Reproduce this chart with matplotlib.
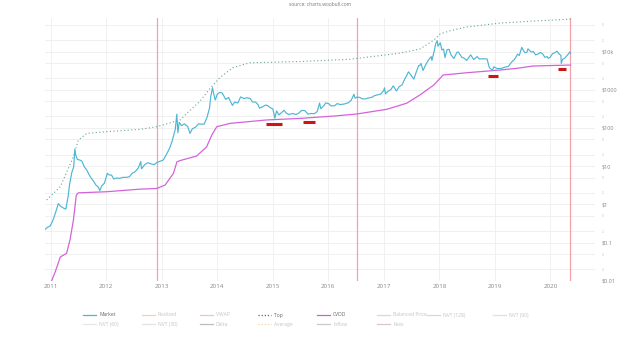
# woobull style chart: bitcoin market price vs CVDD and top model, log scale
import pandas as pd
import matplotlib
matplotlib.use('Agg')
import matplotlib.pyplot as plt
import matplotlib.dates as mdates
from matplotlib.lines import Line2D

# market price (USD)
market_dates = ['2010-11-24', '2010-12-10', '2010-12-28', '2011-01-15', '2011-02-01', '2011-02-20',
                '2011-03-05', '2011-03-25', '2011-04-10', '2011-04-25', '2011-05-05', '2011-05-20',
                '2011-06-01', '2011-06-08', '2011-06-15', '2011-06-25', '2011-07-10', '2011-07-25',
                '2011-08-10', '2011-08-25', '2011-09-10', '2011-09-25', '2011-10-10', '2011-10-25',
                '2011-11-10', '2011-11-20', '2011-12-01', '2011-12-20', '2012-01-08', '2012-01-20',
                '2012-02-05', '2012-02-20', '2012-03-10', '2012-03-30', '2012-04-20', '2012-05-15',
                '2012-06-01', '2012-06-20', '2012-07-10', '2012-07-30', '2012-08-15', '2012-08-20',
                '2012-09-10', '2012-09-30', '2012-10-20', '2012-11-10', '2012-11-28', '2012-12-20',
                '2013-01-10', '2013-01-30', '2013-02-20', '2013-03-10', '2013-03-30', '2013-04-09',
                '2013-04-16', '2013-04-25', '2013-05-10', '2013-05-30', '2013-06-20', '2013-07-05',
                '2013-07-20', '2013-08-10', '2013-08-30', '2013-09-20', '2013-10-05', '2013-10-25',
                '2013-11-10', '2013-11-18', '2013-11-30', '2013-12-07', '2013-12-18', '2013-12-31',
                '2014-01-15', '2014-02-01', '2014-02-25', '2014-03-15', '2014-04-10', '2014-04-25',
                '2014-05-15', '2014-06-03', '2014-06-25', '2014-07-15', '2014-08-05', '2014-08-20',
                '2014-09-10', '2014-09-25', '2014-10-05', '2014-10-25', '2014-11-15', '2014-11-30',
                '2014-12-15', '2015-01-01', '2015-01-14', '2015-01-25', '2015-02-10', '2015-02-28',
                '2015-03-15', '2015-03-30', '2015-04-15', '2015-05-10', '2015-06-01', '2015-06-20',
                '2015-07-10', '2015-07-30', '2015-08-20', '2015-09-10', '2015-09-30', '2015-10-20',
                '2015-11-04', '2015-11-12', '2015-11-30', '2015-12-15', '2016-01-05', '2016-01-16',
                '2016-02-10', '2016-02-28', '2016-03-20', '2016-04-15', '2016-05-10', '2016-05-30',
                '2016-06-17', '2016-06-25', '2016-07-10', '2016-07-30', '2016-08-10', '2016-08-30',
                '2016-09-20', '2016-10-15', '2016-10-30', '2016-11-20', '2016-12-10', '2016-12-30',
                '2017-01-04', '2017-01-11', '2017-01-25', '2017-02-15', '2017-03-03', '2017-03-24',
                '2017-04-10', '2017-04-30', '2017-05-20', '2017-05-26', '2017-06-11', '2017-06-25',
                '2017-07-16', '2017-07-30', '2017-08-17', '2017-08-25', '2017-09-01', '2017-09-15',
                '2017-09-30', '2017-10-20', '2017-11-08', '2017-11-12', '2017-11-29', '2017-12-07',
                '2017-12-17', '2017-12-22', '2018-01-06', '2018-01-17', '2018-01-28', '2018-02-06',
                '2018-02-20', '2018-03-05', '2018-03-18', '2018-04-06', '2018-04-25', '2018-05-05',
                '2018-05-28', '2018-06-10', '2018-06-29', '2018-07-25', '2018-08-14', '2018-09-05',
                '2018-09-20', '2018-10-15', '2018-11-10', '2018-11-25', '2018-12-15', '2018-12-25',
                '2019-01-15', '2019-02-10', '2019-03-01', '2019-03-30', '2019-04-20', '2019-05-10',
                '2019-05-30', '2019-06-10', '2019-06-26', '2019-07-05', '2019-07-16', '2019-07-30',
                '2019-08-06', '2019-08-28', '2019-09-10', '2019-09-25', '2019-10-10', '2019-10-26',
                '2019-11-10', '2019-11-25', '2019-12-10', '2019-12-17', '2019-12-31', '2020-01-14',
                '2020-01-31', '2020-02-13', '2020-02-28', '2020-03-10', '2020-03-12', '2020-03-20',
                '2020-04-05', '2020-04-29', '2020-05-08', '2020-05-12']
market_price = [0.22, 0.25, 0.27, 0.38, 0.6, 1.05,
                0.9, 0.8, 0.75, 1.6, 3.4, 7,
                9.6, 28, 19, 15, 14.5, 13.5,
                9.5, 8, 6, 4.8, 4, 3.2,
                2.8, 2.3, 3.0, 3.6, 6.5, 5.9,
                5.8, 4.6, 4.9, 4.8, 5.1, 5.1,
                5.3, 6.5, 7.2, 9.0, 13.2, 8.5,
                11.0, 12.3, 11.5, 10.9, 12.4, 13.4,
                14.5, 20, 29, 46, 92, 230,
                75, 140, 115, 128, 108, 72,
                95, 105, 128, 126, 125, 190,
                330, 650, 1130, 800, 540, 760,
                850, 830, 560, 630, 390, 480,
                450, 650, 590, 620, 590, 480,
                475, 410, 330, 360, 400, 380,
                340, 315, 180, 280, 220, 255,
                290, 245, 225, 240, 225, 245,
                290, 285, 230, 240, 236, 270,
                450, 320, 375, 455, 430, 380,
                380, 435, 410, 425, 455, 530,
                760, 600, 650, 620, 580, 575,
                610, 640, 700, 740, 770, 960,
                1130, 780, 900, 1010, 1270, 930,
                1200, 1350, 2000, 2200, 2950, 2500,
                1900, 2750, 4300, 4350, 4900, 3200,
                4350, 6000, 7400, 5900, 11000, 16000,
                19300, 13800, 17000, 11000, 11700, 7000,
                11200, 11500, 8200, 6600, 9500, 9800,
                7100, 6800, 5900, 8200, 6200, 7400,
                6400, 6500, 6400, 3800, 3250, 4000,
                3600, 3600, 3850, 4100, 5300, 6300,
                8600, 7900, 12900, 11000, 9400, 9600,
                11800, 9700, 10100, 8200, 8600, 9500,
                8800, 7100, 7400, 6650, 7200, 8800,
                9400, 10300, 8600, 7900, 4900, 6200,
                6800, 8800, 9900, 8900]

# top model (dotted)
top_dates = ['2010-12-05', '2011-03-05', '2011-05-30', '2011-07-01', '2011-08-25', '2012-01-05',
             '2012-08-10', '2012-11-28', '2013-05-01', '2013-07-01', '2013-09-08', '2013-11-15',
             '2014-01-18', '2014-04-12', '2014-08-03', '2015-06-28', '2016-05-22', '2017-04-16',
             '2017-08-25', '2017-11-25', '2018-01-05', '2018-03-10', '2018-06-25', '2019-02-06',
             '2019-09-10', '2020-05-12']
top_price = [1.3, 2.9, 17.7, 48, 72, 80,
             92, 108, 162, 280, 500, 1100,
             2100, 3800, 5100, 5500, 6300, 9100,
             11700, 20000, 29000, 35000, 44000, 56000,
             63000, 71000]

# CVDD
cvdd_dates = ['2010-12-28', '2011-01-30', '2011-03-05', '2011-04-15', '2011-05-08', '2011-05-30',
              '2011-06-18', '2011-07-01', '2012-01-05', '2012-08-10', '2012-11-28', '2013-01-22',
              '2013-03-18', '2013-04-10', '2013-05-01', '2013-08-18', '2013-10-22', '2013-11-25',
              '2013-12-28', '2014-03-25', '2014-11-20', '2015-06-28', '2016-02-03', '2016-07-05',
              '2017-01-20', '2017-05-30', '2017-08-25', '2017-11-25', '2018-01-25', '2018-07-01',
              '2019-02-06', '2019-05-25', '2019-09-10', '2020-05-12']
cvdd_price = [0.008, 0.017, 0.042, 0.052, 0.12, 0.39,
              1.75, 2.0, 2.14, 2.5, 2.6, 3.2,
              6.5, 13, 14, 18.5, 32, 65,
              108, 132, 162, 178, 205, 232,
              309, 445, 730, 1340, 2440, 2800,
              3300, 3650, 4200, 4450]

# halvings and highlighted lows
halving_dates = ['2012-11-28', '2016-07-09', '2020-05-11']
mark_start = ['2014-11-20', '2015-07-20', '2018-11-13', '2020-02-20']
mark_end = ['2015-03-01', '2015-10-05', '2019-01-18', '2020-04-12']
mark_level = [129, 143, 2290, 3560]

ytick_vals = [0.01, 0.1, 1, 10, 100, 1000, 10000]
ytick_labels = ['$0.01', '$0.1', '$1', '$10', '$100', '$1000', '$10k']
minor_vals = [m * 10.0 ** e for e in range(-2, 5) for m in (2, 5)]
minor_labels = [str(m) for e in range(-2, 5) for m in (2, 5)]

legend_names = [['Market', 'Realized', 'VWAP', 'Top', 'CVDD', 'Balanced Price', 'NVT (128)', 'NVT (90)'],
                ['NVT (60)', 'NVT (30)', 'Delta', 'Average', 'Inflow', 'Fees']]
legend_colors = [['#4db6d4', '#f6d2a8', '#f2c0cc', '#4f6f6a', '#d05fd4', '#c2dfe8', '#ccd9ee', '#e0e0e0'],
                 ['#e6e6e6', '#e2e2e2', '#bdbdbd', '#f3d29c', '#c9c9c9', '#dcc2ca']]
legend_active = ['Market', 'Top', 'CVDD']

plt.rcParams['font.family'] = ['Open Sans', 'DejaVu Sans']

fig = plt.figure(figsize=(6.4, 3.37), dpi=100)
W, H = 640.0, 337.0
ax = fig.add_axes([45 / W, 1 - 280.7 / H, 550 / W, (280.7 - 18.2) / H])

to_dt = pd.to_datetime
ax.plot(to_dt(top_dates), top_price, color='#64a596', lw=0.8, linestyle=(0, (1, 2.2)))
ax.plot(to_dt(cvdd_dates), cvdd_price, color='#d563d8', lw=0.9)
ax.plot(to_dt(market_dates), market_price, color='#4db6d4', lw=0.85)

for d in halving_dates:
    ax.axvline(to_dt(d), color='#f4a3ab', lw=0.9, zorder=1)
ax.hlines(mark_level, to_dt(mark_start), to_dt(mark_end), color='#cc1515', lw=2.2, zorder=5)

ax.set_yscale('log')
ax.set_ylim(0.01, 75000)
ax.set_xlim(to_dt('2010-11-24'), to_dt('2020-10-20'))

ax.yaxis.tick_right()
ax.set_yticks(ytick_vals)
ax.set_yticklabels(ytick_labels)
ax.set_yticks(minor_vals, minor=True)
ax.set_yticklabels(minor_labels, minor=True)
ax.tick_params(axis='y', which='major', length=0, pad=5, labelsize=4, labelcolor='#888888')
ax.tick_params(axis='y', which='minor', length=0, pad=5, labelsize=2.5, labelcolor='#bbbbbb')
ax.xaxis.set_major_locator(mdates.YearLocator())
ax.xaxis.set_major_formatter(mdates.DateFormatter('%Y'))
ax.tick_params(axis='x', length=0, pad=2.5, labelsize=4.5, labelcolor='#888888')

ax.grid(True, which='both', axis='y', color='#eeeeee', lw=0.6)
ax.grid(True, which='major', axis='x', color='#eeeeee', lw=0.6)
ax.set_axisbelow(True)
for s in ax.spines.values():
    s.set_visible(False)

fig.text(0.5, 1 - 4 / H, 'source: charts.woobull.com', ha='center', va='center',
         fontsize=3.5, color='#777777')

# legend drawn by hand, two rows
col_x = [83, 142, 200, 258, 317, 377, 427, 493]
row_y = [315, 324.3]
for r, names in enumerate(legend_names):
    for c, name in enumerate(names):
        x0 = col_x[c]
        y = 1 - row_y[r] / H
        ls = (0, (1, 1.5)) if name in ('Top', 'Average') else '-'
        fig.add_artist(Line2D([x0 / W, (x0 + 13) / W], [y, y], color=legend_colors[r][c],
                              lw=0.9, linestyle=ls, transform=fig.transFigure))
        tc = '#666666' if name in legend_active else '#c4c4c4'
        fig.text((x0 + 16) / W, y, name, ha='left', va='center', fontsize=3.6, color=tc)

fig.savefig('out.png', dpi=100)
